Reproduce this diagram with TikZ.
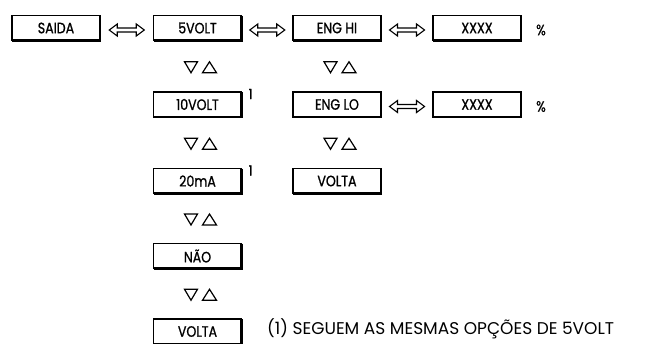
\documentclass[tikz,border=0pt]{standalone}
\usepackage{fontspec}
\setmainfont{Poppins}
\newfontfamily\boxfont[FakeStretch=0.84, FakeBold=1.0]{Poppins}
\usetikzlibrary{calc}
\tikzset{
  box/.style={draw, line width=1.1pt, minimum width=88pt, minimum height=25pt, inner sep=0pt, outer sep=0pt, font=\boxfont\fontsize{15}{17}\selectfont},
  lbl/.style={inner sep=0pt, font=\boxfont\fontsize{15}{17}\selectfont},
  sup/.style={inner sep=0pt, font=\boxfont\fontsize{14}{16}\selectfont},
  note/.style={inner sep=0pt, anchor=base west, font=\fontsize{17}{19}\selectfont},
  pics/dblarrow/.style={code={
    \draw[line width=1.1pt, line join=miter]
      (-17.5,0) -- (-9.5,-6) -- (-9.5,-2) -- (9.5,-2) -- (9.5,-6) -- (17.5,0)
      -- (9.5,6) -- (9.5,2) -- (-9.5,2) -- (-9.5,6) -- cycle;
  }},
  pics/updown/.style={code={
    \draw[line width=1.2pt, line join=miter]
      (-15,-5.5) -- (-2,-5.5) -- (-8.5,5.5) -- cycle
      (3,5.5) -- (17,5.5) -- (10,-5.5) -- cycle;
  }}
}
\begin{document}
\begin{tikzpicture}[x=1pt, y=-1pt]
\useasboundingbox (0,0) rectangle (663,343);
% boxes
\node[box] (saida) at (56,28) {SAIDA};
\node[box] (v5) at (197.5,28) {5VOLT};
\node[box] (enghi) at (337,28) {ENG HI};
\node[box] (xa) at (477,28) {XXXX};
\node[box] (v10) at (197.5,104.5) {10VOLT};
\node[box] (englo) at (337,104.5) {ENG LO};
\node[box] (xb) at (477,104.5) {XXXX};
\node[box] (ma) at (197.5,181) {20mA};
\node[box] (voltaa) at (337,181) {VOLTA};
\node[box] (nao) at (197.5,256) {NÃO};
\node[box] (voltab) at (197.5,331.5) {VOLTA};
% heavier right and bottom edges
\foreach \n in {saida,v5,enghi,xa,v10,englo,xb,ma,voltaa,nao,voltab}
  \draw[line width=2.2pt] (\n.north east) -- (\n.south east) -- (\n.south west);
% percent labels
\node[lbl] (pa) at (541,30) {\%};
\node[lbl] (pb) at (541,106.5) {\%};
% superscripts
\node[sup] (s1) at ($(v10.north east)+(9,2)$) {1};
\node[sup] (s2) at ($(ma.north east)+(9,2)$) {1};
% double arrows
\path (saida.east) -- (v5.west) coordinate[midway] (m1);
\path (v5.east) -- (enghi.west) coordinate[midway] (m2);
\path (enghi.east) -- (xa.west) coordinate[midway] (m3);
\path (englo.east) -- (xb.west) coordinate[midway] (m4);
\foreach \m in {m1,m2,m3,m4}
  \pic at ($(\m)+(0,2)$) {dblarrow};
% up/down triangles
\path (v5.south) -- (v10.north) coordinate[midway] (t1);
\path (enghi.south) -- (englo.north) coordinate[midway] (t2);
\path (v10.south) -- (ma.north) coordinate[midway] (t3);
\path (englo.south) -- (voltaa.north) coordinate[midway] (t4);
\path (ma.south) -- (nao.north) coordinate[midway] (t5);
\path (nao.south) -- (voltab.north) coordinate[midway] (t6);
\foreach \t in {t1,t2,t3,t4,t5,t6}
  \pic at ($(\t)+(2,1)$) {updown};
% footnote
\node[note] (fn) at (267,334.5) {(1) SEGUEM AS MESMAS OPÇÕES DE 5VOLT};
\end{tikzpicture}
\end{document}
